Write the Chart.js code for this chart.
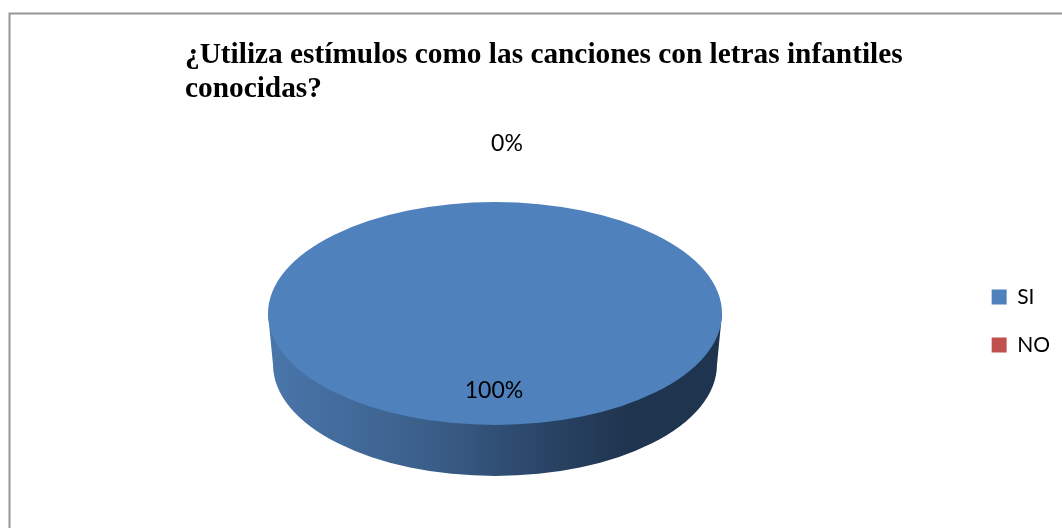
<!DOCTYPE html>
<html><head><meta charset="utf-8">
<style>html,body{margin:0;padding:0;background:#fff}canvas{display:block}</style>
<script src="https://cdn.jsdelivr.net/npm/chart.js@4/dist/chart.umd.min.js"></script>
</head><body><canvas id="c" width="1062" height="528"></canvas>
<script>
const categories = ['SI', 'NO'];
const seriesValues = [100, 0];
const sliceColors = ['#4F81BD', '#C0504D'];
const titleLines = ['¿Utiliza estímulos como las canciones con letras infantiles', 'conocidas?'];

const CX = 495, CY = 313.5, RX = 227, RY = 111.5;
const BOTTOM_RX = 222, BOTTOM_CY = 364.5, BOTTOM_RY = 111.5;
const labelOffsets = [[-1, 77], [12, -170]];

const pie3d = {
  id: 'pie3d',
  beforeDraw(chart) {
    const c = chart.ctx;
    c.save();
    c.fillStyle = '#fff';
    c.fillRect(0, 0, chart.width, chart.height);
    c.strokeStyle = '#969696';
    c.lineWidth = 2;
    c.beginPath();
    c.moveTo(9.5, 528); c.lineTo(9.5, 13.5); c.lineTo(1062, 13.5);
    c.stroke();
    c.restore();
  },
  beforeDatasetsDraw(chart) {
    const c = chart.ctx;
    const arc = chart.getDatasetMeta(0).data[0];
    const g = c.createLinearGradient(CX - RX, 0, CX + RX, 0);
    g.addColorStop(0, '#4A76AB');
    g.addColorStop(0.35, '#3B5F8A');
    g.addColorStop(0.6, '#2A4567');
    g.addColorStop(0.8, '#1F344E');
    g.addColorStop(1, '#1F344E');
    c.save();
    c.fillStyle = g;
    c.beginPath();
    c.moveTo(CX - RX, CY);
    c.lineTo(CX - BOTTOM_RX, BOTTOM_CY);
    c.ellipse(CX, BOTTOM_CY, BOTTOM_RX, BOTTOM_RY, 0, Math.PI, 0, true);
    c.lineTo(CX + RX, CY);
    c.closePath();
    c.fill();
    c.restore();
    c.save();
    c.translate(CX, CY);
    c.scale(RX / arc.outerRadius, RY / arc.outerRadius);
    c.translate(-arc.x, -arc.y);
  },
  afterDatasetsDraw(chart) {
    const c = chart.ctx;
    c.restore();
    c.save();
    c.font = '23px Lato';
    c.fillStyle = '#000';
    c.textAlign = 'center';
    c.textBaseline = 'middle';
    seriesValues.forEach((v, i) => {
      const total = seriesValues.reduce((a, b) => a + b, 0);
      c.fillText(Math.round(v / total * 100) + '%', CX + labelOffsets[i][0], CY + labelOffsets[i][1]);
    });
    c.restore();
  }
};

new Chart(document.getElementById('c'), {
  type: 'pie',
  data: { labels: categories, datasets: [{ data: seriesValues, backgroundColor: sliceColors, borderWidth: 0, radius: 227, clip: false }] },
  plugins: [pie3d],
  options: {
    responsive: false,
    animation: false,
    devicePixelRatio: 1,
    layout: { padding: { left: 185, top: 30, right: 2, bottom: 0 } },
    plugins: {
      tooltip: { enabled: false },
      title: {
        display: true,
        text: titleLines,
        align: 'start',
        color: '#000',
        font: { family: '"Liberation Serif"', size: 29.33, weight: 'bold', lineHeight: 1.16 },
        padding: { top: 8, bottom: 8 }
      },
      legend: {
        position: 'right',
        fullSize: false,
        labels: {
          color: '#000',
          boxWidth: 15, boxHeight: 15,
          padding: 27,
          font: { family: 'Lato', size: 21 }
        }
      }
    }
  }
});
</script></body></html>
